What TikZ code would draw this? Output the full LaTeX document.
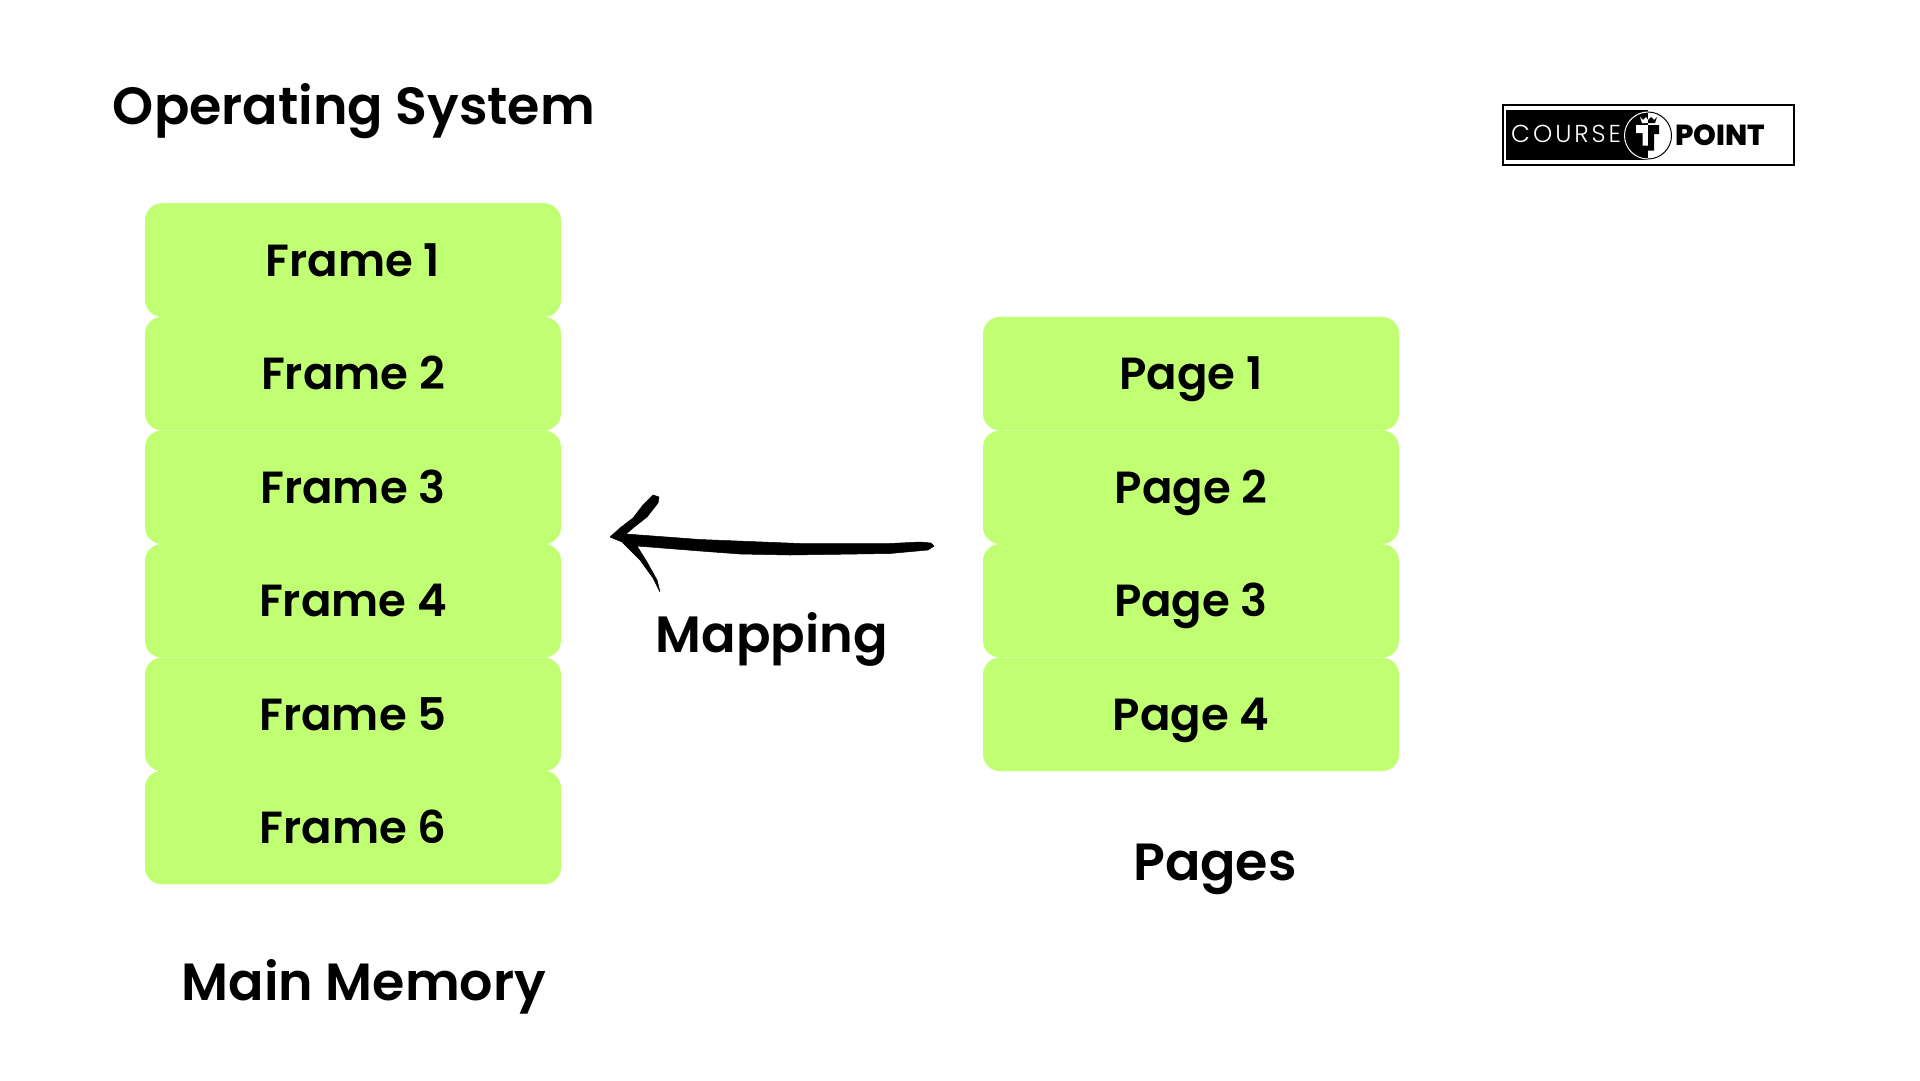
\documentclass[tikz,border=0pt]{standalone}
\usepackage{fontspec}
\setmainfont{Poppins}[BoldFont={Poppins SemiBold}]
\newfontfamily\logolight{Poppins Light}[LetterSpace=12]
\newfontfamily\logoheavy{Poppins ExtraBold}
\definecolor{lime}{HTML}{C1FF72}
\tikzset{
  cell/.style={fill=lime, rounded corners=17pt, minimum width=416pt, minimum height=113.6pt, inner sep=0pt, font=\fontsize{45}{45}\selectfont\bfseries, text=black, text height=32pt, text depth=0pt},
  heading/.style={font=\fontsize{52.3}{52}\selectfont\bfseries, text=black, inner sep=0pt, anchor=base}
}
\begin{document}
\begin{tikzpicture}[x=1pt,y=-1pt]
\useasboundingbox (0,0) rectangle (1920,1080);
\fill[white] (0,0) rectangle (1920,1080);
\node[heading] (title) at (354,124) {Operating System};
\foreach \n/\y in {1/260,2/373.6,3/487.2,4/600.8,5/714.4,6/827.6}
  \node[cell] (f\n) at (353,\y) {Frame \n};
\foreach \n/\y in {1/373.6,2/487.2,3/600.8,4/714.4}
  \node[cell] (p\n) at (1191,\y) {Page \n};
\node[heading] (mm) at (364,1000) {Main Memory};
\node[heading] (pg) at (1215,880) {Pages};
\node[heading,font=\fontsize{51}{51}\selectfont\bfseries] (map) at (772,652) {Mapping};
% hand-drawn arrow
\fill[black,draw=black,line width=.5pt,line join=round]
  (610,537) -- (620,528) -- (633,518) -- (643,505) -- (653,495) -- (659,497) -- (658,503) -- (647,517) -- (633,528) -- (626,534)
  -- (660,536.5) -- (700,539.5) -- (750,541.5) -- (800,543.5) -- (890,543.5) -- (920,542) -- (931,543) -- (934,546) -- (928,550) -- (890,553.5) -- (790,555) -- (740,554) -- (700,551)
  -- (637,546) -- (647,562) -- (657,580) -- (660,592) -- (653,578) -- (640,560) -- (622,542) -- cycle;
% logo
\draw[black,line width=1.7pt] (1503,105) rectangle (1794,165);
\fill[black] (1506,110) rectangle (1648,160);
\begin{scope}
  \clip (1600,100) rectangle (1648,170);
  \draw[white,line width=1pt] (1648,135.5) circle[radius=23.5pt];
  \fill[white] (1636,125) -- (1648.5,125) -- (1648.5,145.5) -- (1642.7,145.5) -- (1642.7,133) -- (1636,133) -- cycle;
  \fill[white] (1640,117) -- (1643,120) -- (1646,117) -- (1648,120) -- (1648,123) -- (1642,123) -- cycle;
\end{scope}
\begin{scope}
  \clip (1648,100) rectangle (1700,170);
  \draw[black,line width=1pt] (1648,135.5) circle[radius=23.5pt];
  \fill[black] (1648,125) -- (1659,125) -- (1659,134) -- (1654,134) -- (1654,150.5) -- (1648,150.5) -- cycle;
  \fill[black] (1648,120) -- (1651,117) -- (1654,120) -- (1657,117) -- (1655,123) -- (1648,123) -- cycle;
\end{scope}
\node[font=\logolight\fontsize{24.5}{24.5}\selectfont, text=white, anchor=base west, inner sep=0pt] (course) at (1511,142) {COURSE};
\node[font=\logoheavy\fontsize{29}{29}\selectfont, text=black, anchor=base west, inner sep=0pt] (point) at (1675,145) {POINT};
\end{tikzpicture}
\end{document}
